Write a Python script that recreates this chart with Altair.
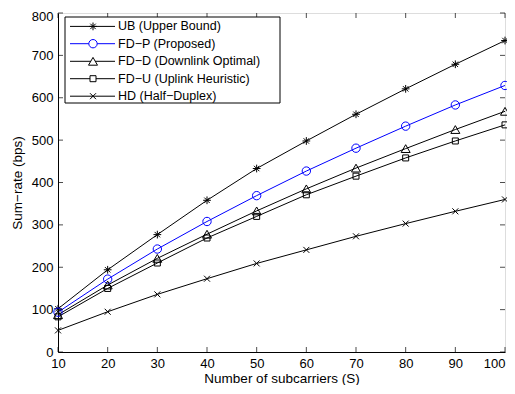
import altair as alt
import pandas as pd

S = [10, 20, 30, 40, 50, 60, 70, 80, 90, 100]
UB = [102, 194, 277, 358, 433, 498, 561, 621, 679, 735]
FDP = [94, 172, 243, 308, 369, 427, 481, 533, 583, 629]
FDD = [88, 158, 221, 278, 333, 385, 434, 480, 525, 568]
FDU = [83, 150, 210, 269, 320, 371, 415, 458, 498, 536]
HD = [51, 95, 136, 173, 209, 241, 273, 303, 332, 360]

series = ["UB (Upper Bound)", "FD\u2212P (Proposed)", "FD\u2212D (Downlink Optimal)",
          "FD\u2212U (Uplink Heuristic)", "HD (Half\u2212Duplex)"]
values = [UB, FDP, FDD, FDU, HD]
colors = ["#000000", "#0000ff", "#000000", "#000000", "#000000"]
ASTER = "M-1,0L1,0M0,-1L0,1M-0.7,-0.7L0.7,0.7M-0.7,0.7L0.7,-0.7"
XMARK = "M-1,-1L1,1M-1,1L1,-1"
shapes = [ASTER, "circle", "triangle-up", "square", XMARK]
sizes = [60, 70, 81, 36, 36]

y_ticks = [0, 100, 200, 300, 400, 500, 600, 700, 800]
x_ticks = S

W, H = 447, 339
FONT = "Liberation Sans"

rows = []
for name, vals in zip(series, values):
    for s, v in zip(S, vals):
        rows.append({"S": s, "rate": v, "series": name})
df = pd.DataFrame(rows)

xscale = alt.Scale(domain=[10, 100], nice=False, zero=False)
yscale = alt.Scale(domain=[0, 800], nice=False)
color_scale = alt.Scale(domain=series, range=colors)

xaxis = alt.Axis(values=x_ticks, ticks=False, grid=False, domainColor="black",
                 labelFontSize=13, labelPadding=5, labelColor="black",
                 labelAlign={"condition": {"test": "datum.value >= 100", "value": "right"},
                             "value": "center"},
                 title="Number of subcarriers (S)", titleFontSize=13.5,
                 titleFontWeight="normal", titlePadding=1, titleColor="black",
                 labelFlush=False)
yaxis = alt.Axis(values=y_ticks, ticks=False, grid=False, domainColor="black",
                 labelFontSize=13, labelPadding=5, labelColor="black",
                 labelOffset={"condition": {"test": "datum.value >= 800", "value": 3},
                              "value": 0},
                 title="Sum\u2212rate (bps)", titleFontSize=13.5,
                 titleFontWeight="normal", titlePadding=7, titleColor="black",
                 labelFlush=False)

lines = alt.Chart(df).mark_line(strokeWidth=1, clip=True).encode(
    x=alt.X("S:Q", scale=xscale, axis=xaxis),
    y=alt.Y("rate:Q", scale=yscale, axis=yaxis),
    color=alt.Color("series:N", scale=color_scale, legend=None),
    detail="series:N",
)

point_layers = []
for name, shp, sz, col in zip(series, shapes, sizes, colors):
    sub = df[df["series"] == name]
    point_layers.append(
        alt.Chart(sub).mark_point(filled=False, strokeWidth=1, size=sz, shape=shp,
                                  color=col, opacity=1).encode(
            x=alt.X("S:Q", scale=xscale),
            y=alt.Y("rate:Q", scale=yscale),
        )
    )

ydf = pd.DataFrame({"rate": y_ticks})
xdf = pd.DataFrame({"S": x_ticks})
tick_left = alt.Chart(ydf).mark_tick(size=5, thickness=1, color="black").encode(
    y=alt.Y("rate:Q", scale=yscale), x=alt.value(2.5))
tick_right = alt.Chart(ydf).mark_tick(size=5, thickness=1, color="black").encode(
    y=alt.Y("rate:Q", scale=yscale), x=alt.value(W - 2.5))
tick_bottom = alt.Chart(xdf).mark_tick(size=5, thickness=1, color="black").encode(
    x=alt.X("S:Q", scale=xscale), y=alt.value(H - 2.5))
tick_top = alt.Chart(xdf).mark_tick(size=5, thickness=1, color="black").encode(
    x=alt.X("S:Q", scale=xscale), y=alt.value(2.5))

one = pd.DataFrame({"a": [0]})
legend_layers = [
    alt.Chart(one).mark_rect(fill="white", stroke="black", strokeWidth=1).encode(
        x=alt.value(7), x2=alt.value(222), y=alt.value(4), y2=alt.value(90))
]
leg_y = [13.4, 30.7, 48.3, 65.7, 83.2]
for name, shp, sz, col, ly in zip(series, shapes, sizes, colors, leg_y):
    legend_layers.append(
        alt.Chart(one).mark_rule(color=col, strokeWidth=1).encode(
            x=alt.value(12), x2=alt.value(57), y=alt.value(ly)))
    legend_layers.append(
        alt.Chart(one).mark_point(filled=False, strokeWidth=1, size=sz, shape=shp,
                                  color=col, opacity=1, fill="white").encode(
            x=alt.value(35), y=alt.value(ly)))
    legend_layers.append(
        alt.Chart(one).mark_text(align="left", baseline="middle", fontSize=12.5,
                                 color="black", font=FONT).encode(
            x=alt.value(60), y=alt.value(ly), text=alt.value(name)))

chart = alt.layer(
    lines, *point_layers, tick_left, tick_right, tick_bottom, tick_top, *legend_layers
).properties(
    width=W, height=H,
    autosize=alt.AutoSizeParams(type="none"),
    padding={"left": 50, "top": 5, "right": 2, "bottom": 33},
).configure_view(
    stroke="black", strokeWidth=1
).configure(
    font=FONT, background="white"
)

chart.save("out.html", embed_options={"renderer": "svg", "actions": False})
